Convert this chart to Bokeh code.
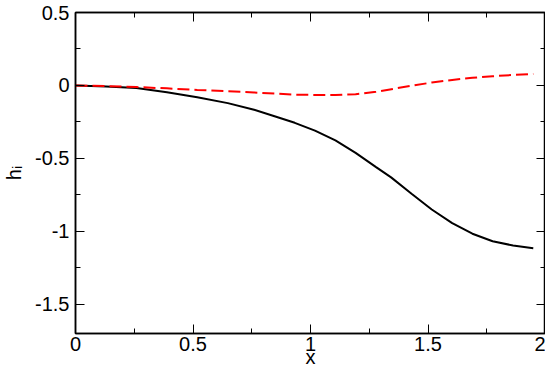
from bokeh.plotting import figure
from bokeh.models import Range1d, FixedTicker, LinearAxis
from bokeh.embed import file_html
from bokeh.resources import INLINE

# data
x_black = [0.0, 0.13, 0.259, 0.389, 0.518, 0.648, 0.760, 0.847, 0.933, 1.019, 1.106,
           1.192, 1.279, 1.343, 1.43, 1.516, 1.603, 1.689, 1.775, 1.862, 1.948]
h_black = [0.0, -0.007, -0.018, -0.047, -0.081, -0.121, -0.166, -0.211, -0.256, -0.31,
           -0.377, -0.462, -0.56, -0.63, -0.742, -0.85, -0.944, -1.016, -1.068, -1.097,
           -1.115]
x_red = [0.0, 0.13, 0.259, 0.389, 0.518, 0.648, 0.760, 0.847, 0.933, 1.019, 1.106,
         1.192, 1.279, 1.365, 1.43, 1.516, 1.603, 1.689, 1.775, 1.862, 1.948]
h_red = [0.0, -0.004, -0.011, -0.02, -0.031, -0.04, -0.048, -0.056, -0.063, -0.065,
         -0.065, -0.06, -0.043, -0.02, -0.002, 0.02, 0.038, 0.052, 0.063, 0.072, 0.079]

x_ticks = [0, 0.5, 1, 1.5, 2]
x_tick_labels = ["0", "0.5", "1", "1.5", "2"]
x_minor = [0.25, 0.75, 1.25, 1.75]
y_ticks = [-1.5, -1, -0.5, 0, 0.5]
y_tick_labels = ["-1.5", "-1", "-0.5", "0", "0.5"]
y_minor = [-1.25, -0.75, -0.25, 0.25]

FONT = "Liberation Sans"

p = figure(width=545, height=370, output_backend="svg", toolbar_location=None,
           x_range=Range1d(0, 2), y_range=Range1d(-1.7, 0.5),
           min_border_left=10, min_border_right=0, min_border_top=12, min_border_bottom=0)
p.grid.visible = False
p.outline_line_color = "black"
p.outline_line_width = 1.5
p.background_fill_color = "white"
p.border_fill_color = "white"

def style(ax, ticks, labels, minor, show_labels):
    ax.ticker = FixedTicker(ticks=ticks, minor_ticks=minor)
    ax.major_tick_in = 9
    ax.major_tick_out = 0
    ax.minor_tick_in = 5
    ax.minor_tick_out = 0
    ax.major_tick_line_color = "black"
    ax.minor_tick_line_color = "black"
    ax.axis_line_color = "black"
    ax.axis_line_width = 1.5
    if show_labels:
        ax.major_label_overrides = {t: l for t, l in zip(ticks, labels)}
        ax.major_label_text_font = FONT
        ax.major_label_text_font_size = "20px"
        ax.major_label_text_color = "black"
        ax.axis_label_text_font = FONT
        ax.axis_label_text_font_size = "20px"
        ax.axis_label_text_font_style = "normal"
        ax.axis_label_text_color = "black"
    else:
        ax.major_label_overrides = {t: "" for t in ticks}
        ax.major_label_text_color = None
        ax.major_label_text_font_size = "1px"
        ax.major_label_standoff = 0
        ax.axis_label = None

style(p.xaxis[0], x_ticks, x_tick_labels, x_minor, True)
style(p.yaxis[0], y_ticks, y_tick_labels, y_minor, True)
p.xaxis[0].axis_label = "x"
p.xaxis[0].major_label_standoff = 3
p.xaxis[0].axis_label_standoff = -8
p.yaxis[0].axis_label = "h\u1d62"
p.yaxis[0].major_label_standoff = 6
p.yaxis[0].axis_label_standoff = 7

top = LinearAxis()
style(top, x_ticks, x_tick_labels, x_minor, False)
p.add_layout(top, "above")
right = LinearAxis()
style(right, y_ticks, y_tick_labels, y_minor, False)
p.add_layout(right, "right")

p.line(x_black, h_black, line_color="black", line_width=2)
p.line(x_red, h_red, line_color="red", line_width=2, line_dash="12 5")

open("out.html", "w").write(file_html(p, INLINE))
